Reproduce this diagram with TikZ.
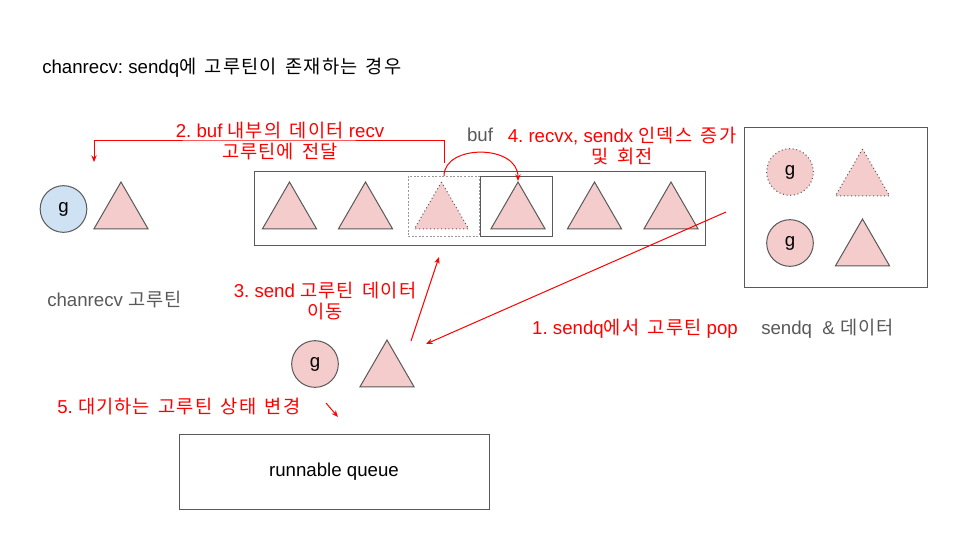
\documentclass[tikz,border=0pt]{standalone}
\usepackage{fontspec}
\setmainfont{Liberation Sans}
\newfontfamily\krfont[LetterSpace=6, WordSpace=1.6]{Noto Sans CJK KR}
\newcommand\K[1]{{\krfont #1}}
\usetikzlibrary{shapes.geometric,arrows.meta}
\definecolor{edge}{HTML}{595959}
\definecolor{lightedge}{HTML}{999999}
\definecolor{pinkf}{HTML}{F4CCCC}
\definecolor{bluef}{HTML}{CFE2F3}
\definecolor{redc}{HTML}{FF0000}
\definecolor{graytxt}{HTML}{595959}
\tikzset{
  txt/.style={inner sep=0pt, font=\fontsize{14}{16}\selectfont\frenchspacing},
  redtxt/.style={txt, text=redc, align=center},
  graylbl/.style={txt, text=graytxt},
  tri/.style={regular polygon, regular polygon sides=3, minimum size=46.8pt, inner sep=0pt, outer sep=0pt, draw=edge, fill=pinkf, line width=0.75pt},
  dtri/.style={tri, dotted},
  gnode/.style={circle, minimum size=35pt, inner sep=0pt, draw=edge, fill=pinkf, line width=0.75pt, font=\fontsize{14}{16}\selectfont},
  boxnode/.style={draw=edge, line width=0.75pt, inner sep=0pt},
  redarrow/.style={draw=redc, line width=0.75pt, -{Stealth[length=5pt,width=4pt]}},
}
\begin{document}
\begin{tikzpicture}[x=0.75pt, y=-0.75pt]
\useasboundingbox (0,0) rectangle (960,540);
\fill[white] (0,0) rectangle (960,540);

% title
\node[txt, anchor=base west] (title) at (42,73.5) {chanrecv: sendq\K{에 고루틴이 존재하는 경우}};

% receiver goroutine
\node[gnode, fill=bluef] (gr) at (63.5,209) {g};
\node[tri] (t0) at (121,213.2) {};
\node[graylbl, anchor=west] (chlbl) at (47,300) {chanrecv \K{고루틴}};

% buf
\node[boxnode, minimum width=338.25pt, minimum height=55.5pt] (buf) at (479.5,208) {};
\node[graylbl] (buflbl) at (480,135) {buf};
\node[boxnode, draw=lightedge, dash pattern=on 1.5pt off 1.2pt, minimum width=53.25pt, minimum height=45pt] (slot3) at (443.5,206) {};
\node[boxnode, minimum width=54pt, minimum height=45pt] (slot4) at (516,206) {};
\node[tri] (b1) at (289.5,213.2) {};
\node[tri] (b2) at (365.5,213.2) {};
\node[dtri] (b3) at (441.5,213.2) {};
\node[tri] (b4) at (518,213.2) {};
\node[tri] (b5) at (594.5,213.2) {};
\node[tri] (b6) at (671,213.2) {};

% sendq
\node[boxnode, minimum width=137.25pt, minimum height=120pt] (sendq) at (835.5,207) {};
\node[gnode, dotted] (sg1) at (790,172) {g};
\node[dtri] (st1) at (862.5,180.2) {};
\node[gnode] (sg2) at (790,243) {g};
\node[tri] (st2) at (862.5,250.2) {};
\node[graylbl, anchor=west] (sqlbl) at (761,329) {sendq\ \ \& \K{데이터}};

% moving goroutine
\node[gnode] (mg) at (315,364) {g};
\node[tri] (mt) at (387,371.2) {};

% runnable queue
\node[boxnode, minimum width=232.5pt, minimum height=56.25pt, font=\fontsize{14}{16}\selectfont] (rq) at (334,472) {runnable queue};

% labels
\node[redtxt] (l2) at (280,141) {2. buf \K{내부의 데이터} recv\\\K{고루틴에 전달}};
\node[redtxt] (l4) at (622,146) {4. recvx, sendx \K{인덱스 증가}\\\K{및 회전}};
\node[redtxt] (l3) at (325,301) {3. send \K{고루틴 데이터}\\\K{이동}};
\node[redtxt] (l1) at (635,329) {1. sendq\K{에서 고루틴} pop};
\node[redtxt, anchor=west] (l5) at (57,407) {5. \K{대기하는 고루틴 상태 변경}};

% connector coordinates
\coordinate (a1s) at (726,212);
\coordinate (a1e) at (426,344);
\coordinate (a2s) at (444,163);
\coordinate (a2e) at (94,162);
\coordinate (a3s) at (411,341);
\coordinate (a3e) at (439,257);
\coordinate (a4s) at (444,176);
\coordinate (a4e) at (518,181);
\coordinate (a5s) at (326,403);
\coordinate (a5e) at (338,417);

\draw[redarrow] (a1s) -- (a1e);
\draw[redarrow] (a2s) |- (269,140) -| (a2e);
\draw[redarrow] (a3s) -- (a3e);
\draw[redarrow] (a4s) .. controls (444,144) and (518,144) .. (a4e);
\draw[redarrow] (a5s) -- (a5e);
\end{tikzpicture}
\end{document}
